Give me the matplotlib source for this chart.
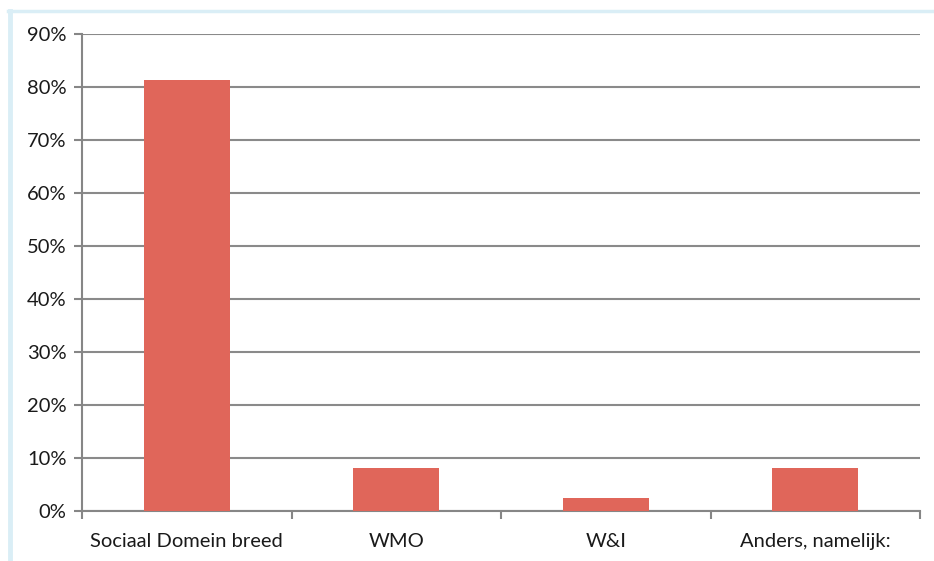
import matplotlib.pyplot as plt
from matplotlib.lines import Line2D
from matplotlib.ticker import FixedLocator, FuncFormatter

categories = ["Sociaal Domein breed", "WMO", "W&I", "Anders, namelijk:"]
values = [81.3, 8.1, 2.4, 8.1]
yticks = [0, 10, 20, 30, 40, 50, 60, 70, 80, 90]

W, H = 934, 561
fig = plt.figure(figsize=(W / 100, H / 100), dpi=100)
plt.rcParams["font.family"] = ["Lato", "DejaVu Sans"]

# light blue frame (left and top edges) of the surrounding text box
frame = "#daeef6"
fig.add_artist(Line2D([10 / W, 10 / W], [0, 1 - 11 / H], color=frame, lw=3.5,
                      transform=fig.transFigure))
fig.add_artist(Line2D([8 / W, 1], [1 - 11 / H, 1 - 11 / H], color=frame, lw=2.5,
                      transform=fig.transFigure))

ax = fig.add_axes([82 / W, 1 - 511 / H, (920 - 82) / W, (511 - 34) / H])
x = range(len(categories))
ax.bar(x, values, width=0.41, color="#e0665a", zorder=3)

ax.set_xlim(-0.5, len(categories) - 0.5)
ax.set_ylim(0, 90)
ax.set_yticks(yticks)
ax.yaxis.set_major_formatter(FuncFormatter(lambda v, p: f"{v:.0f}%"))
ax.grid(axis="y", color="#8a8a8a", lw=1.5, zorder=0)

ax.set_xticks(list(x))
ax.set_xticklabels(categories)
ax.xaxis.set_minor_locator(FixedLocator([i - 0.5 for i in range(len(categories) + 1)]))
ax.tick_params(axis="x", which="major", length=0, pad=16, labelsize=14.5, colors="#1a1a1a")
ax.tick_params(axis="x", which="minor", length=6, width=1.5, color="#868686")
ax.tick_params(axis="y", length=6, width=1.5, color="#868686", labelsize=14.5,
               pad=5, labelcolor="#1a1a1a")

for s in ("top", "right"):
    ax.spines[s].set_visible(False)
for s in ("left", "bottom"):
    ax.spines[s].set_color("#868686")
    ax.spines[s].set_linewidth(1.5)

fig.savefig("out.png", dpi=100)
